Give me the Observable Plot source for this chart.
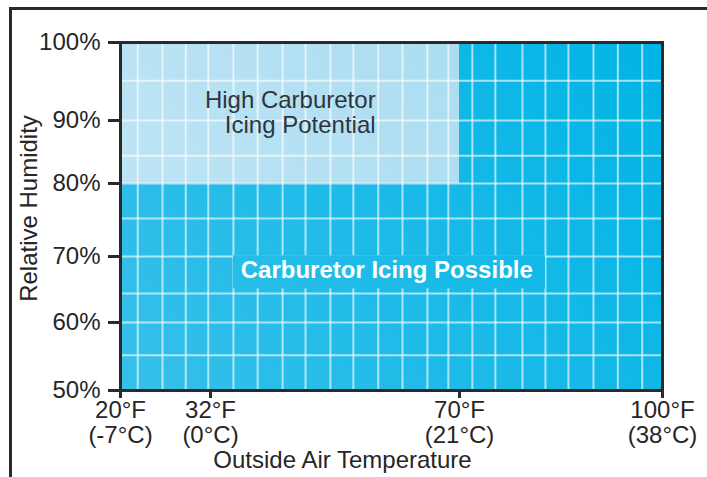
<!DOCTYPE html>
<html><head><meta charset="utf-8">
<script src="https://cdn.jsdelivr.net/npm/d3@7"></script>
<script src="https://cdn.jsdelivr.net/npm/@observablehq/plot@0.6"></script>
<style>
html,body{margin:0;padding:0;background:#fff;}
#wrap{position:relative;width:707px;height:477px;overflow:hidden;}
#border{position:absolute;left:9px;top:7px;width:720px;height:500px;border-top:3px solid #2a2a2a;border-left:3px solid #2a2a2a;}
#chart{position:absolute;left:0;top:0;}
</style></head><body>
<div id="wrap"><div id="border"></div><div id="chart"></div></div>
<script>
// Tick values and labels
const xTicks = [20, 32, 70, 100];
const xTickLabels = ["20°F\n(-7°C)", "32°F\n(0°C)", "70°F\n(21°C)", "100°F\n(38°C)"];
const yTicks = [50, 60, 70, 80, 90, 100];
const yTickLabels = ["50%", "60%", "70%", "80%", "90%", "100%"];
// Grid lines (°F and % RH)
const gridX = [22.3, 25.6, 28.7, 31.7, 35.5, 39.2, 43.0, 46.5, 50.3, 53.8, 57.6, 61.3, 65.1, 68.3,
               71.9, 75.3, 79.3, 82.7, 86.1, 89.8, 93.4, 97.0];
const gridY = [55.2, 60, 64.4, 70, 75.2, 80, 84.4, 90, 95.1];
// Zones
const possibleZone = [{x1: 20, x2: 100, y1: 50, y2: 100}];
const highZone = [{x1: 20, x2: 70, y1: 80, y2: 100}];
// Label box behind "Carburetor Icing Possible"
const labelBox = [{x1: 35.5, x2: 82.7, y1: 65.1, y2: 70.1}];
// Annotations
const highLabel = [{x: 57.2, y: 91.0, text: "High Carburetor\nIcing Potential"}];
const possibleLabel = [{x: 58.9, y: 67.9, text: "Carburetor Icing Possible"}];
const xTitle = ["Outside Air Temperature"];
const yTitle = ["Relative Humidity"];

const font = "'Liberation Sans', Arial, sans-serif";
const ink = "#262626";
const fs = 24;

const plot = Plot.plot({
  width: 707,
  height: 477,
  marginLeft: 120,
  marginRight: 45,
  marginTop: 42,
  marginBottom: 87,
  style: {fontFamily: font, fontSize: fs + "px", background: "transparent", color: ink},
  x: {type: "linear", domain: [20, 32, 70, 100], range: [120, 210, 459, 662]},
  y: {type: "linear", domain: [50, 60, 70, 80, 90, 100], range: [390, 322, 256, 183, 120, 42]},
  marks: [
    Plot.rect(possibleZone, {x1: "x1", x2: "x2", y1: "y1", y2: "y2", fill: "url(#gDark)"}),
    Plot.rect(highZone, {x1: "x1", x2: "x2", y1: "y1", y2: "y2", fill: "url(#gLight)"}),
    Plot.ruleY(gridY, {stroke: "white", strokeOpacity: 0.62, strokeWidth: 2}),
    Plot.ruleX(gridX, {stroke: "white", strokeOpacity: 0.62, strokeWidth: 2}),
    Plot.rect(labelBox, {x1: "x1", x2: "x2", y1: "y1", y2: "y2", fill: "url(#gDark)"}),
    Plot.text(highLabel, {x: "x", y: "y", text: "text", textAnchor: "end", lineHeight: 1.02,
      fontSize: fs, fill: "#2f3540"}),
    Plot.text(possibleLabel, {x: "x", y: "y", text: "text", fontSize: fs, fontWeight: "bold", fill: "white"}),
    Plot.frame({stroke: "#2a2a2a", strokeWidth: 3}),
    Plot.axisY(yTicks, {tickFormat: d => yTickLabels[yTicks.indexOf(d)], tickSize: 12, tickPadding: 8,
      strokeWidth: 3, stroke: "#2a2a2a", fill: ink, fontSize: fs, label: null}),
    Plot.axisX(xTicks, {tickFormat: d => xTickLabels[xTicks.indexOf(d)], tickSize: 8, tickPadding: 2,
      strokeWidth: 3, stroke: "#2a2a2a", fill: ink, fontSize: fs, lineHeight: 1.04, label: null}),
    Plot.text(xTitle, {text: d => d, frameAnchor: "bottom", lineAnchor: "middle", dx: -49, dy: 70,
      fontSize: fs, fill: ink}),
    Plot.text(yTitle, {text: d => d, frameAnchor: "left", textAnchor: "middle", lineAnchor: "middle",
      rotate: -90, dx: -91, dy: -8, fontSize: fs, fill: ink})
  ]
});

// gradients spanning the plot area
const sx = plot.scale("x"), sy = plot.scale("y");
const x0 = sx.apply(20), x1 = sx.apply(100), y0 = sy.apply(50), y1 = sy.apply(100);
const defs = d3.select(plot).insert("defs", ":first-child");
function grad(id, c0, c1) {
  const g = defs.append("linearGradient").attr("id", id).attr("gradientUnits", "userSpaceOnUse")
    .attr("x1", x0).attr("y1", y0).attr("x2", x1).attr("y2", y1);
  g.append("stop").attr("offset", "0").attr("stop-color", c0);
  g.append("stop").attr("offset", "1").attr("stop-color", c1);
}
grad("gDark", "#36c0ea", "#00b4e5");
grad("gLight", "#c3e7f5", "#a3d9ef");

document.getElementById("chart").appendChild(plot);
</script>
</body></html>
